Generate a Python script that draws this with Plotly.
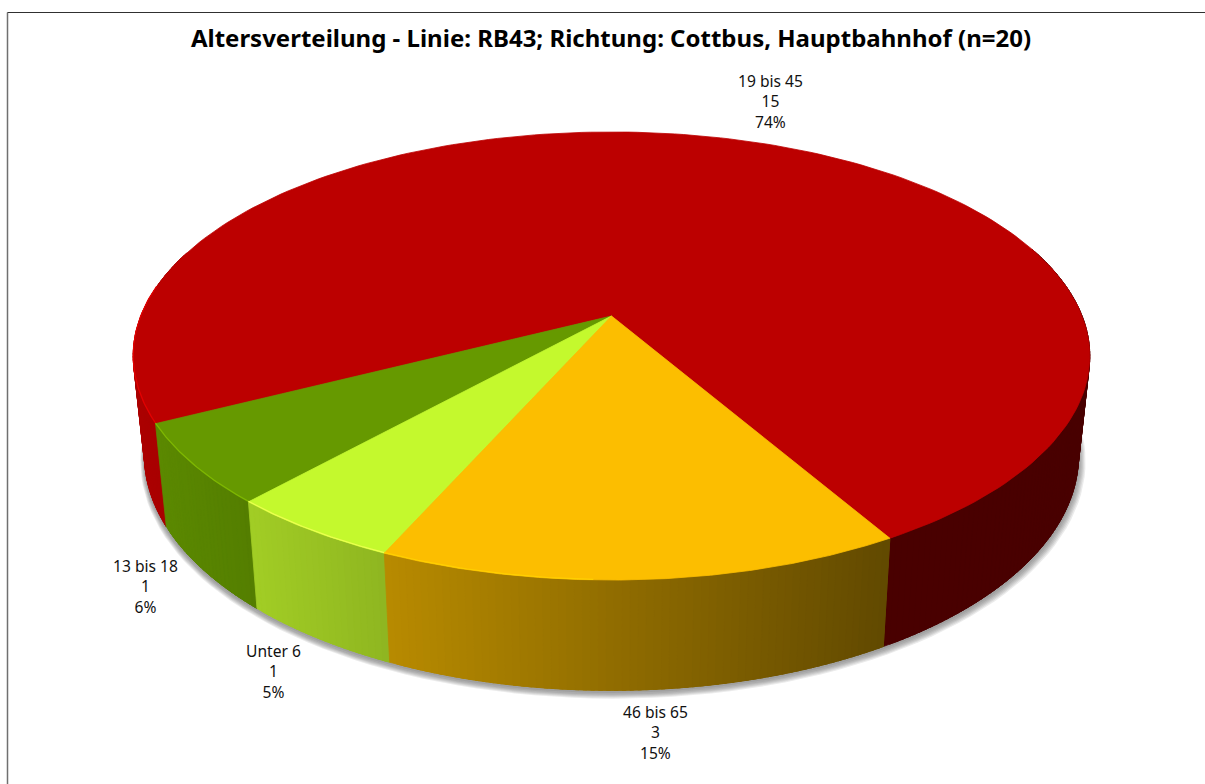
import numpy as np
import plotly.graph_objects as go

# ---- data ----
categories = ["19 bis 45", "13 bis 18", "Unter 6", "46 bis 65"]
counts = [15, 1, 1, 3]
shares = [74.2, 5.8, 5.05, 14.95]
percent_labels = ["74%", "6%", "5%", "15%"]
title_text = "Altersverteilung - Linie: RB43; Richtung: Cottbus, Hauptbahnhof (n=20)"

# ---- styles ----
top_colors = [(188, 0, 0), (102, 153, 0), (196, 249, 45), (252, 190, 0)]
rim_colors = ["#e40000", "#7fb800", "#ecff50", "#ffd000"]
label_pos = [(770, 101), (145, 586), (273, 671), (655, 732)]
START = 30.0
K = 0.1786
CX = 611.5
TOP = dict(y0=316.0, A=470.6, B=216.9)
BOT = dict(y0=414.0, A=459.5, B=227.0)


def project(phi_deg, plane, scale=1.0, dx=0.0, dy=0.0):
    phi = np.radians(phi_deg)
    u, v = np.sin(phi) * scale, np.cos(phi) * scale
    w = 1 - K * np.cos(phi)
    return CX + dx + plane["A"] * u / w, plane["y0"] + dy + plane["B"] * v / w


def shade(x):
    return np.interp(x, [133, 250, 390, 885, 1091], [0.92, 0.83, 0.73, 0.39, 0.39])


def poly(xs, ys, fill):
    return go.Scatter(x=list(xs), y=list(ys), mode="lines", fill="toself", fillcolor=fill,
                      line=dict(color=fill, width=0.8), hoverinfo="skip", showlegend=False)


fig = go.Figure()

# soft shadow beneath the pie
ring = np.arange(0, 361, 2.0)
for s, dy, dx in [(1.012, 5, 1.5), (1.010, 4.5, 1.2), (1.008, 4, 1), (1.006, 3.5, 0.8), (1.004, 3, 0.5), (1.002, 2, 0.3)]:
    xs, ys = project(ring, BOT, s, dx, dy)
    fig.add_trace(go.Scatter(x=xs, y=ys, mode="lines", fill="toself", fillcolor="rgba(60,60,60,0.10)",
                             line=dict(width=0), hoverinfo="skip", showlegend=False))

# slice boundaries
edges = START + np.cumsum([0] + shares) * 3.6

# side walls: overlapping thin bands so the colour runs smoothly along the rim
for i in range(len(categories)):
    a0, a1 = edges[i], edges[i + 1]
    n = max(2, int((a1 - a0) / 0.8))
    ph = np.linspace(a0, a1, n + 1)
    step = ph[1] - ph[0]
    for p0, p1 in zip(ph[:-1], ph[1:]):
        if np.cos(np.radians((p0 + p1) / 2)) < -0.3:
            continue
        pe = min(p1 + 1.5 * step, a1)
        x0, y0 = project(p0, TOP)
        x1, y1 = project(pe, TOP)
        x2, y2 = project(pe, BOT)
        x3, y3 = project(p0, BOT)
        f = shade((project(p0, TOP)[0] + project(p1, TOP)[0] + project(p0, BOT)[0] + project(p1, BOT)[0]) / 4)
        c = "rgb(%d,%d,%d)" % tuple(int(ch * f) for ch in top_colors[i])
        fig.add_trace(poly([x0, x1, x2, x3, x0], [y0, y1, y2, y3, y0], c))

# top faces
for i in range(len(categories)):
    ph = np.linspace(edges[i], edges[i + 1], 200)
    xs, ys = project(ph, TOP)
    c = "rgb(%d,%d,%d)" % top_colors[i]
    fig.add_trace(poly(np.r_[CX, xs, CX], np.r_[TOP["y0"], ys, TOP["y0"]], c))

# bright bevel on the front rim
for i in range(len(categories)):
    a0, a1 = edges[i], edges[i + 1]
    if i == 0:
        a0 = 262.0
    ph = np.linspace(a0, a1, 60)
    if i == 3:
        ph = np.linspace(a0, a0 + 22, 30)
    xs, ys = project(ph, TOP)
    fig.add_trace(go.Scatter(x=xs, y=ys - 0.6, mode="lines", line=dict(color=rim_colors[i], width=1.2),
                             hoverinfo="skip", showlegend=False))

# data labels
for name, cnt, pct, (lx, ly) in zip(categories, counts, percent_labels, label_pos):
    fig.add_annotation(x=lx, y=ly, text=f"{name}<br>{cnt}<br>{pct}", showarrow=False, align="center",
                       xanchor="center", yanchor="middle",
                       font=dict(family="Noto Sans, sans-serif", size=15.6, color="#111111"))

fig.update_layout(
    width=1205, height=784, margin=dict(l=0, r=0, t=0, b=0),
    paper_bgcolor="white", plot_bgcolor="white", showlegend=False,
    title=dict(text=f"<b>{title_text}</b>", x=611 / 1205, xanchor="center", xref="paper",
               y=1 - 39 / 784, yanchor="middle", yref="container",
               font=dict(family="Noto Sans, sans-serif", size=24, color="black")),
    xaxis=dict(range=[0, 1205], visible=False, fixedrange=True),
    yaxis=dict(range=[784, 0], visible=False, fixedrange=True),
    shapes=[
        dict(type="line", x0=7.5, x1=7.5, y0=12.5, y1=784, line=dict(color="#707070", width=1.5)),
        dict(type="line", x0=7.5, x1=1205, y0=12.5, y1=12.5, line=dict(color="#303030", width=1.2)),
    ],
)
fig.write_html("out.html", config=dict(displayModeBar=False),
               post_script="document.body.style.margin='0';document.body.style.overflow='hidden';")
